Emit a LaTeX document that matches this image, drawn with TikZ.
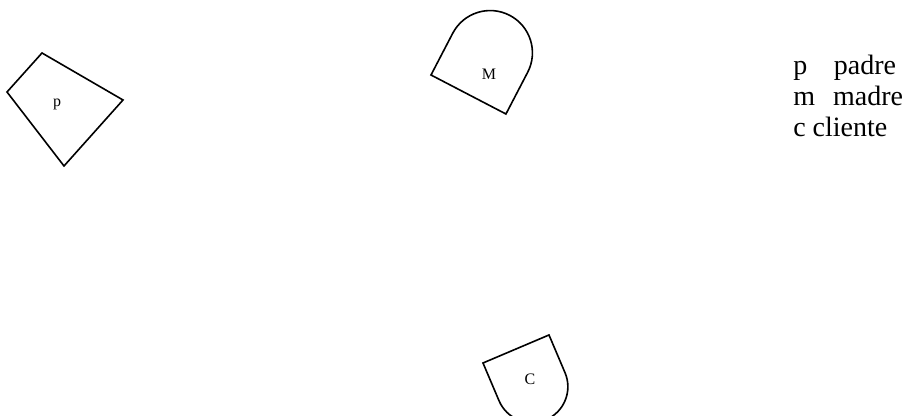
\documentclass[tikz,border=0pt]{standalone}
\usepackage{fontspec}
\setmainfont{Liberation Serif}
\usetikzlibrary{positioning}
\tikzset{
  outl/.style={draw=black,line width=1.2pt,line join=miter},
  lbl/.style={font=\fontsize{12}{14}\selectfont,inner sep=0pt,anchor=base},
  keyline/.style={font=\fontsize{21}{24}\selectfont,inner sep=0pt,anchor=base west},
}

\begin{document}
\begin{tikzpicture}[x=0.75pt,y=0.75pt]
  \useasboundingbox (0,0) rectangle (914,416);
  \begin{scope}
    \clip (0,0) rectangle (914,416);
    % padre
    \draw[outl] (42,363) -- (7,324) -- (64,250) -- (123,316) -- cycle;
    \node[lbl] (p) at (57,309.5) {p};
    % madre
    \draw[outl,shift={(431,341)},rotate=-27.5] (0,0) -- (84.5,0) -- (84.5,47)
      arc[start angle=0,end angle=180,radius=42.25] -- cycle;
    \node[lbl] (m) at (489,336) {M};
    % cliente
    \draw[outl,shift={(483,53)},rotate=23] (0,0) -- (71.7,0) -- (71.7,-41)
      arc[start angle=0,end angle=-180,radius=35.85] -- cycle;
    \node[lbl] (c) at (530,31) {C};
  \end{scope}
  % key
  \node[keyline] (kp) at (793,341) {p\hspace{20pt}padre};
  \node[keyline] (km) at (793,310) {m\hspace{13.5pt}madre};
  \node[keyline] (kc) at (793,279) {c cliente};
\end{tikzpicture}
\end{document}
